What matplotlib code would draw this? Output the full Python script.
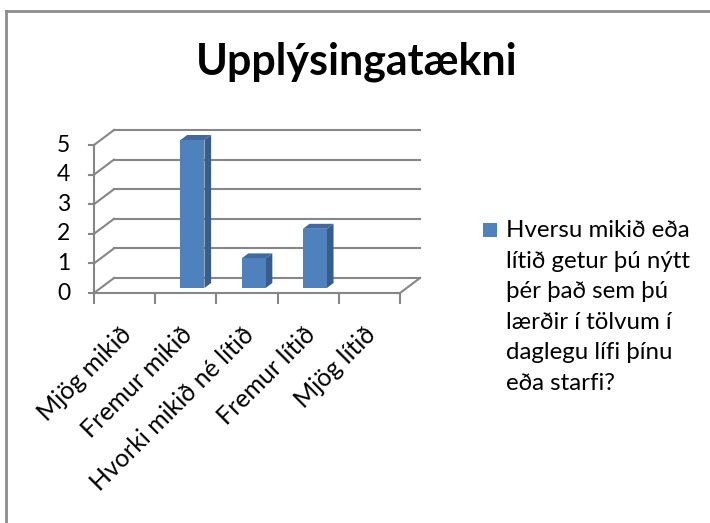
import matplotlib
matplotlib.use("Agg")
import matplotlib.pyplot as plt
from matplotlib.patches import Polygon, Rectangle

plt.rcParams['font.family'] = ['Lato', 'DejaVu Sans']

title = 'Upplýsingatækni'
categories = ['Mjög mikið', 'Fremur mikið', 'Hvorki mikið né lítið',
              'Fremur lítið', 'Mjög lítið']
values = [0, 5, 1, 2, 0]
y_ticks = [0, 1, 2, 3, 4, 5]
series_label = ('Hversu mikið eða\nlítið getur þú nýtt\nþér það sem þú\n'
                'lærðir í tölvum í\ndaglegu lífi þínu\neða starfi?')

front = '#4F81BD'
side = '#385D8A'
top = '#41699D'
grid = '#868686'

W, H = 710, 523
fig = plt.figure(figsize=(W / 100, H / 100), dpi=100)

# axes placed so that front floor runs 94..400 px, value 0..5 -> 293..145 px
ax_l, ax_r, ax_t, ax_b = 60, 440, 110, 320
ppx = 61.2
ppy = 29.6
ax = fig.add_axes([ax_l / W, 1 - ax_b / H, (ax_r - ax_l) / W, (ax_b - ax_t) / H])
ax.set_xlim((ax_l - 94) / ppx, (ax_r - 94) / ppx)
ax.set_ylim((293 - ax_b) / ppy, (293 - ax_t) / ppy)
ax.axis('off')

# depth vector of the 3d box (data units)
dx, dy = 20 / ppx, 15 / ppy
n = len(categories)
ymax = y_ticks[-1]

# back wall and side wall gridlines
for v in y_ticks:
    ax.plot([dx, n + dx], [v + dy, v + dy], color=grid, lw=1.5, zorder=1)
    ax.plot([0, dx], [v, v + dy], color=grid, lw=1.5, zorder=1)
# floor front edge and right edge
ax.plot([0, n], [0, 0], color=grid, lw=1.5, zorder=1)
ax.plot([n, n + dx], [0, dy], color=grid, lw=1.5, zorder=1)
# value axis
ax.plot([0, 0], [0, ymax], color=grid, lw=1.5, zorder=1)
for v in y_ticks:
    ax.plot([-5 / ppx, 0], [v, v], color=grid, lw=1.5, zorder=1)
    ax.text(-24 / ppx, v, str(v), ha='right', va='center', fontsize=16.5)
# category ticks
for i in range(n + 1):
    ax.plot([i, i], [0, -10 / ppy], color=grid, lw=1.5, zorder=1)

# 3d bars
bw = 24 / ppx
d0, e0 = dx / 3, dy / 3
for i, v in enumerate(values):
    if v <= 0:
        continue
    x0 = i + 0.5 - bw / 2 + d0
    y0 = e0
    x1 = x0 + bw
    ax.add_patch(Polygon([(x1, y0), (x1 + d0, y0 + e0), (x1 + d0, v + y0 + e0), (x1, v + y0)],
                         closed=True, fc=side, ec='none', zorder=3))
    ax.add_patch(Polygon([(x0, v + y0), (x1, v + y0), (x1 + d0, v + y0 + e0), (x0 + d0, v + y0 + e0)],
                         closed=True, fc=top, ec='none', zorder=3))
    ax.add_patch(Rectangle((x0, y0), bw, v, fc=front, ec='none', zorder=4))

# rotated category labels
for i, c in enumerate(categories):
    ax.text(i + 0.55, -38 / ppy, c, rotation=45, rotation_mode='anchor',
            ha='right', va='center', fontsize=18)

fig.text(357 / W, 1 - 62 / H, title, ha='center', va='center',
         fontsize=31, fontweight='bold')

# legend
fig.patches.append(Rectangle((483 / W, 1 - 237 / H), 14 / W, 14 / H,
                             transform=fig.transFigure, fc=front, ec='none'))
fig.text(506 / W, 1 - 220 / H, series_label, ha='left', va='top',
         fontsize=17.3, linespacing=1.56)

# chart border (left and top edges visible)
fig.add_artist(plt.Line2D([6 / W, 6 / W], [0, 1 - 11 / H], color='#8c8c8c', lw=2,
                          transform=fig.transFigure))
fig.add_artist(plt.Line2D([6 / W, 1], [1 - 11 / H, 1 - 11 / H], color='#8c8c8c', lw=2,
                          transform=fig.transFigure))

fig.savefig('out.png', dpi=100)
